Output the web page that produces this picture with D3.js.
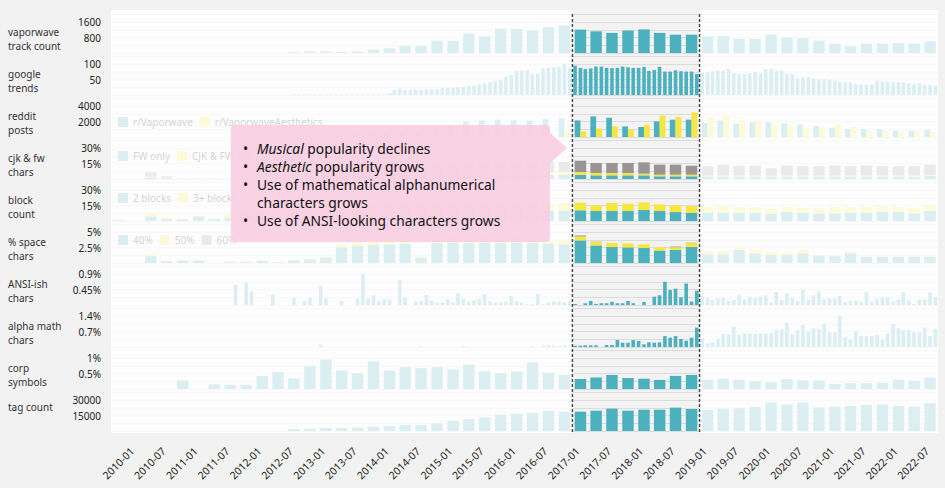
<!DOCTYPE html>
<html><head><meta charset="utf-8">
<script src="https://cdn.jsdelivr.net/npm/d3@7"></script>
<style>
body{margin:0;background:#f2f2f2;}
svg{display:block;font-family:"Noto Sans",sans-serif;}
</style></head><body>
<svg id="c" width="945" height="488"></svg>
<script>
// ---------- DATA ----------
// quarterly series, 2009-Q4 .. 2022-Q3 (52 quarters)
const trackCount = [0,0,0,0,0,0,0,0,0,0,0,40,80,80,60,80,170,240,360,360,630,620,1000,850,1250,1230,1160,1330,1420,1200,1110,1030,1150,1210,1030,940,940,850,870,730,730,940,790,760,630,480,340,480,480,510,480,600];
const redditVaporwave = [0,0,0,0,0,0,0,0,0,0,0,0,0,150,250,350,450,600,700,850,1000,1450,2000,2130,2220,2130,2090,2300,2400,2130,2640,2470,1360,1280,2000,2220,2220,1790,2130,1710,1880,1920,1750,1620,1410,1190,1060,1030,1030,810,810,900];
const redditAesthetics = [0,0,0,0,0,0,0,0,0,0,0,0,0,0,0,0,0,0,0,0,0,0,0,0,0,100,300,500,600,720,1100,1360,940,1580,2730,2560,3150,2560,2860,2220,2130,1580,1500,1150,1240,1670,1280,720,720,720,720,640];
const cjkFwOnly = [0,0,1.5,0.8,0.3,0.2,0.3,0.3,1,1.5,2,2,2.5,3,3,3.5,3.5,4,4,4,4,4,4,4,4,4,4,4,4,4.1,3.5,3.5,3.5,3.5,2.6,2.6,2.6,2.2,2.2,2.2,2.2,2.2,2.2,2.2,2.2,2.2,2.2,2.2,2.2,2.2,2.2,3.0];
const cjkBoth = [0,0,0.8,0.3,0,0,0,0,0.5,1,1,1.5,1.5,2,2,2,2,2,2,2.5,2.5,2.5,2.5,2.5,2.5,2.5,2.5,2.5,2.5,2.6,2.3,2.3,2.3,1.6,1.6,1.6,1.6,1,1,1,1,1,1,1,1,1,1,1,1,1,1,0.8];
const cjkOnly = [0,0,4,1.5,0,0,0,0,3,5,6,7,7,8,8,9,9,9,10,10,10,10,10,10,10,10,10,10,10,10.9,9.6,9.6,9.6,10.9,9.6,9.6,8.6,9,10.6,9.6,9.6,7.1,9.9,9,9,9.9,9,9.9,9,9,9,10];
const blocks2 = [1,0,4.4,1.9,1.6,4.5,1.9,3.5,6,7,7,8,8,8.5,9,9,9,9.5,9.5,10,10,10,10,10,10,10,10,10,10,10.3,9.6,9.6,9.6,10.6,9.6,8.6,8.0,8.0,8.0,8.0,8.0,7.1,9.0,8.0,7.4,7.4,8.0,8.0,9.0,9.0,7.4,9.6];
const blocks3 = [0,0,3.2,1.6,0,0.5,0,4.2,4,4.5,5,5,5.5,5.5,6,6,6,6.5,6.5,6.5,7,7,7,7,7,7,7,7,7,7.3,5.4,7.7,7.1,7.3,6.4,6.4,6.4,5.4,6.4,5.4,5.4,4.8,4.5,4.8,4.8,6.1,5.4,5.4,5.4,4.5,5.4,5.8];
const space40 = [0,0,1.1,0.3,0.4,0.4,0,0.2,0.2,0.35,0.1,0.45,0.6,0.9,2.5,2.8,2.9,3.0,3.1,0.9,3.2,3.3,3.2,3.3,3.2,3.3,3.2,3.1,3.0,3.62,2.82,2.56,2.5,2.4,2.0,2.1,2.56,1.4,1.4,2.1,1.55,1.3,1.3,1.55,1.2,1.1,1.55,1.0,1.0,1.0,1.0,1.0];
const space50 = [0,0,0.3,0.1,0.1,0.1,0,0,0,0.05,0,0.05,0.05,0.1,0.4,0.5,0.5,0.5,0.5,0.15,0.6,0.6,0.6,0.6,0.6,0.6,0.6,0.6,0.6,0.64,0.54,0.64,0.64,0.59,0.54,0.43,0.64,0.53,0.53,0.43,0.64,0.5,0.37,0.53,0.1,0.1,0.2,0.1,0.1,0.1,0.1,0.1];
const space60 = [0,0,0,0,0,0,0,0,0,0,0,0,0,0,0,0,0,0,0,0,0,0,0,0,0,0,0,0,0,0.15,0.05,0,0,0,0,0.1,0.05,0,0,0,0,0,0,0,0,0,0,0,0,0,0,0];
const corpSymbols = [0,0,0,0,0.28,0,0.15,0.13,0.13,0.42,0.54,0.34,0.74,0.94,0.59,0.51,0.89,0.59,0.7,0.67,0.7,0.63,0.78,0.57,0.51,0.56,0.85,0.52,0.45,0.32,0.37,0.45,0.35,0.33,0.29,0.42,0.45,0.3,0.33,0.3,0.25,0.21,0.32,0.28,0.27,0.16,0.19,0.19,0.2,0.3,0.26,0.37];
const tagCount = [0,0,0,0,0,0,0,0,0,0,0,1920,2240,2880,2880,3200,4170,4810,5770,5770,7370,9940,11540,13140,15700,16670,17310,19550,18270,18560,19550,21470,19550,20500,20500,22440,21150,20190,21470,21790,23070,27560,25640,27560,22750,23390,24040,25000,25640,24040,23390,26920];
// monthly series, 2009-10 .. 2022-09 (156 months)
const googleTrends = [0,0,0,
 0,0,0,0,0,0,0,0,0,0, 0,0,0,0,0,0,0,0,0,0, 0,0,0,0,0,0,0,0,0,0, 0,2,2,2,2,2,2,2,2,2,
 2,2,2,2,2,2,2,2,2,5, 16,21,16,16,18,16,19,18,19,22, 22,23,25,26,29,30,34,38,41,44,
 48,59,64,77,78,79,67,68,85,88, 88,91,100,88,
 94,87,83,85,91,91,87,86,87,91,89,87,87,90,77,80,90,75,75,79,76,75,75,67,
 72,
 73,76,78,78,83,70,67,67,70,73,69,83,83,77,78,67,67,54,57,57,52,51,51,49,46,43,41,41,35,33,33,33,46,43,43,41,41,41,37,35,38,32,32,30];
const ansiChars = [0,0,0,
 0,0,0,0,0,0,0,0,0,0, 0,0,0,0,0,0,0,0,0,0, 0.58,0,0.65,0.4,0,0,0,0.3,0,0,
 0,0.21,0,0.115,0.21,0,0.55,0.19,0,0, 0.115,0,0,0.19,0.91,0.19,0.27,0.115,0.17,0.16,
 0,0.72,0.22,0,0.1,0.115,0.29,0.125,0.07,0.07, 0.17,0.07,0.34,0.17,0.1,0.14,0.17,0.31,0.1,0.07,
 0.07,0.1,0.26,0.115,0.07,0.02,0.02,0.32,0.02,0.07, 0.1,0.1,0.07,0.1,
 0.03,0,0.05,0.115,0.03,0.05,0.05,0.09,0.05,0.05,0.115,0.05,0,0.09,0,0.24,0.28,0.67,0.43,0.47,0.22,0.62,0.1,0.41,
 0.25,
 0.19,0.14,0.19,0.21,0.115,0.14,0.29,0.16,0.24,0.21,0.24,0.27,0.07,0.38,0.14,0.34,0.21,0.115,0.45,0.16,0.27,0.4,0.16,0.19,0.19,0.26,0.07,0.125,0.14,0.1,0.38,0.1,0.19,0.22,0.22,0.1,0.16,0.36,0.125,0.03,0.16,0.16,0.36,0.22];
const alphaMath = [0,0,0,
 0,0,0,0,0,0,0,0,0,0, 0,0,0,0,0,0,0,0,0,0, 0,0,0,0,0,0,0,0,0,0,
 0,0,0,0,0,0,0.12,0,0,0, 0,0,0,0,0,0,0,0,0,0,
 0,0,0,0,0,0.03,0,0,0,0, 0,0,0,0.03,0,0,0,0,0,0,
 0,0,0,0,0,0,0.03,0,0.06,0.09, 0.06,0.04,0.06,0.03,
 0.06,0.06,0.075,0.075,0.075,0,0.09,0.09,0.31,0.19,0.19,0.31,0.27,0.12,0.21,0.19,0.21,0.49,0.42,0.49,0.36,0.28,0.42,0.87,
 0.4,
 0.16,0.21,0.36,0.6,0.57,0.91,0.54,0.61,0.61,0.58,0.61,0.61,0.63,0.76,0.79,1.08,0.58,0.76,0.99,0.69,0.84,0.81,1.03,0.66,0.66,1.39,0.45,0.34,0.72,0.49,0.49,0.49,0.54,0.34,0.61,1.03,0.84,0.76,0.76,0.66,0.66,0.87,0.49,0.81];

const rowLabels = [["vaporwave","track count"],["google","trends"],["reddit","posts"],["cjk & fw","chars"],["block","count"],["% space","chars"],["ANSI-ish","chars"],["alpha math","chars"],["corp","symbols"],["tag count"]];
const rowTickLabels = [["1600","800"],["100","50"],["4000","2000"],["30%","15%"],["30%","15%"],["5%","2.5%"],["0.9%","0.45%"],["1.4%","0.7%"],["1%","0.5%"],["30000","15000"]];
const rowTickValues = [[1600,800],[100,50],[4000,2000],[30,15],[30,15],[5,2.5],[0.9,0.45],[1.4,0.7],[1,0.5],[30000,15000]];
const rowMax = [2000,125,5000,37.5,37.5,6.25,1.125,1.75,1.25,37500];
const xTickLabels = ["2010-01","2010-07","2011-01","2011-07","2012-01","2012-07","2013-01","2013-07","2014-01","2014-07","2015-01","2015-07","2016-01","2016-07","2017-01","2017-07","2018-01","2018-07","2019-01","2019-07","2020-01","2020-07","2021-01","2021-07","2022-01","2022-07"];
const legendReddit = ["r/Vaporwave","r/VaporwaveAesthetics"];
const legendCjk = ["FW only","CJK & FW","CJK only"];
const legendBlocks = ["2 blocks","3+ blocks"];
const legendSpace = ["40%","50%","60%"];
const highlightRange = ["2017-01","2019-01"];
const calloutLines = [
  [{t:"Musical",i:true},{t:" popularity declines"}],
  [{t:"Aesthetic",i:true},{t:" popularity grows"}],
  [{t:"Use of mathematical alphanumerical"}],
  [{t:"characters grows"}],
  [{t:"Use of ANSI-looking characters grows"}]
];
const calloutBullets = [true,true,true,false,true];

// ---------- CHART ----------
const TEAL="#4bb1bf", YELLOW="#f6e63e", GRAY="#9b9494";
const parse=d3.timeParse("%Y-%m");
const svg=d3.select("#c");
const t0=new Date(2009,9,1), t1=new Date(2022,9,1);
const x=d3.scaleTime().domain([t0,t1]).range([111,938]);
const quarters=d3.timeMonth.every(3).range(t0,t1);
const months=d3.timeMonth.range(t0,t1);
const qw=(x(t1)-x(t0))/quarters.length, mw=qw/3;
const PT=10, PB=433, ROW0=14, ROWP=42, ROWH=39;
const rowTop=i=>ROW0+i*ROWP;
const ys=rowMax.map((m,i)=>d3.scaleLinear().domain([0,m]).range([rowTop(i)+ROWH,rowTop(i)]));

svg.append("rect").attr("width",945).attr("height",488).attr("fill","#f2f2f2");
svg.append("rect").attr("x",111).attr("y",PT).attr("width",938-111).attr("height",PB-PT).attr("fill","#f3f3f3");

// gridlines
const grid=svg.append("g");
ys.forEach((y,i)=>{
  grid.selectAll(null).data(d3.range(0,6).map(k=>rowMax[i]*k/5)).join("line")
   .attr("x1",111).attr("x2",938).attr("y1",d=>Math.round(y(d))+0.5).attr("y2",d=>Math.round(y(d))+0.5)
   .attr("stroke","#dcdcdc").attr("stroke-width",1);
});

const bars=svg.append("g");
function qBars(data,i,color){
  bars.append("g").selectAll("rect").data(data).join("rect")
   .attr("x",(d,k)=>x(quarters[k])+qw*0.145).attr("width",qw*0.72)
   .attr("y",d=>ys[i](d)).attr("height",d=>ys[i](0)-ys[i](d)).attr("fill",color);
}
function mBars(data,i,color){
  bars.append("g").selectAll("rect").data(data).join("rect")
   .attr("x",(d,k)=>x(months[k])+mw*0.16).attr("width",mw*0.68)
   .attr("y",d=>ys[i](d)).attr("height",d=>ys[i](0)-ys[i](d)).attr("fill",color);
}
function stackBars(series,i,colors){
  const rows=quarters.map((q,k)=>{const o={};series.forEach((s,j)=>o[j]=s[k]);return o;});
  const st=d3.stack().keys(series.map((s,j)=>j))(rows);
  st.forEach((layer,j)=>{
    bars.append("g").selectAll("rect").data(layer).join("rect")
     .attr("x",(d,k)=>x(quarters[k])+qw*0.145).attr("width",qw*0.72)
     .attr("y",d=>ys[i](d[1])).attr("height",d=>ys[i](d[0])-ys[i](d[1])).attr("fill",colors[j]);
  });
}
qBars(trackCount,0,TEAL);
mBars(googleTrends,1,TEAL);
// grouped reddit
const sub=d3.scaleBand().domain([0,1]).range([qw*0.145,qw*0.865]);
[[redditVaporwave,TEAL],[redditAesthetics,YELLOW]].forEach(([data,c],j)=>{
  bars.append("g").selectAll("rect").data(data).join("rect")
   .attr("x",(d,k)=>x(quarters[k])+sub(j)).attr("width",sub.bandwidth())
   .attr("y",d=>ys[2](d)).attr("height",d=>ys[2](0)-ys[2](d)).attr("fill",c);
});
stackBars([cjkFwOnly,cjkBoth,cjkOnly],3,[TEAL,YELLOW,GRAY]);
stackBars([blocks2,blocks3],4,[TEAL,YELLOW]);
stackBars([space40,space50,space60],5,[TEAL,YELLOW,GRAY]);
mBars(ansiChars,6,TEAL);
mBars(alphaMath,7,TEAL);
qBars(corpSymbols,8,TEAL);
qBars(tagCount,9,TEAL);

// legends
function legend(names,colors,y){
  const g=svg.append("g");
  let cx=118;
  names.forEach((n,j)=>{
    g.append("rect").attr("x",cx).attr("y",y).attr("width",10).attr("height",10).attr("fill",colors[j]);
    const t=g.append("text").attr("x",cx+15).attr("y",y+9).attr("font-size",10).attr("fill","#222").text(n);
    cx=cx+15+t.node().getComputedTextLength()+7;
  });
}
legend(legendReddit,[TEAL,YELLOW],117);
legend(legendCjk,[TEAL,YELLOW,GRAY],151);
legend(legendBlocks,[TEAL,YELLOW],193);
legend(legendSpace,[TEAL,YELLOW,GRAY],235);

// fade overlay outside highlight
const hx0=x(parse(highlightRange[0])), hx1=x(parse(highlightRange[1]));
svg.append("rect").attr("x",111).attr("y",PT).attr("width",hx0-111).attr("height",PB-PT).attr("fill","#fff").attr("opacity",0.8);
svg.append("rect").attr("x",hx1).attr("y",PT).attr("width",938-hx1).attr("height",PB-PT).attr("fill","#fff").attr("opacity",0.8);
[hx0,hx1].forEach(v=>svg.append("line").attr("x1",v).attr("x2",v).attr("y1",14).attr("y2",432)
  .attr("stroke","#444").attr("stroke-width",1.4).attr("stroke-dasharray","3,2"));

// row labels & ticks
rowLabels.forEach((lines,i)=>{
  const top=rowTop(i);
  const g=svg.append("g");
  lines.forEach((l,j)=>g.append("text").attr("x",8).attr("y",lines.length===1?top+18.5:top+21.5+j*14)
    .attr("font-size",10).attr("fill","#333").text(l));
  rowTickValues[i].forEach((v,j)=>g.append("text").attr("x",101).attr("y",ys[i](v)+1).attr("dy","0.35em")
    .attr("text-anchor","end").attr("font-size",10).attr("fill","#222").text(rowTickLabels[i][j]));
});

// x axis labels
svg.append("g").selectAll("text").data(xTickLabels).join("text")
  .attr("transform",d=>`translate(${x(parse(d))+8},${452}) rotate(-45)`)
  .attr("text-anchor","end").attr("font-size",10.5).attr("fill","#222").text(d=>d);

// callout
const cg=svg.append("g");
cg.append("path").attr("d","M235,125 H546 Q550,125 550,129 V133 L567,148 L550,163 V238 Q550,242 546,242 H235 Q231,242 231,238 V129 Q231,125 235,125 Z")
  .attr("fill","#f9cfe1").attr("opacity",0.93);
calloutLines.forEach((parts,k)=>{
  const yy=154+k*17.9;
  if(calloutBullets[k]) cg.append("text").attr("x",243).attr("y",yy).attr("font-size",13.8).attr("fill","#111").text("•");
  const t=cg.append("text").attr("x",257).attr("y",yy).attr("font-size",13.8).attr("fill","#111");
  parts.forEach(p=>t.append("tspan").attr("font-style",p.i?"italic":null).text(p.t));
});
</script>
</body></html>
